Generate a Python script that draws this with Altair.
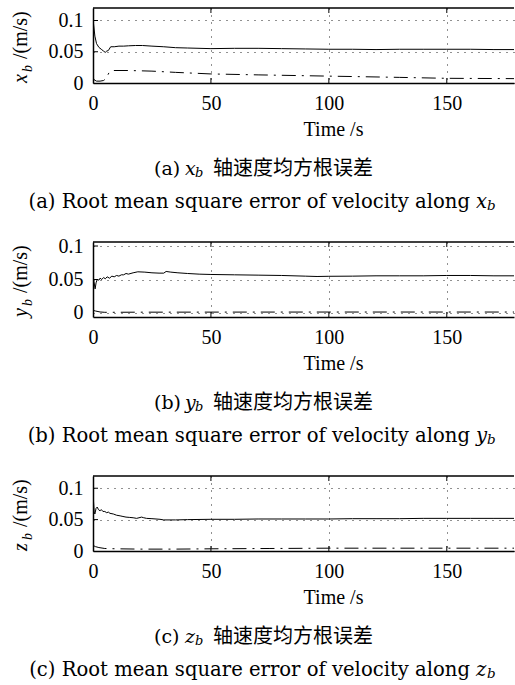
import altair as alt
import pandas as pd

# ---------------- data ----------------
# (a) x_b
xb_t_solid = [0, 0.3, 0.8, 1.5, 2.5, 3.5, 4.5, 5.2, 5.8, 6.5, 7.5, 9, 11, 13, 15, 18, 21, 25, 30, 35, 40,
              50, 60, 70, 80, 90, 100, 110, 120, 130, 140, 150, 160, 170, 178.5]
xb_solid = [0.102, 0.092, 0.075, 0.063, 0.057, 0.054, 0.051, 0.049, 0.051, 0.052, 0.058, 0.058, 0.059, 0.059,
            0.0595, 0.060, 0.060, 0.059, 0.058, 0.0565, 0.056, 0.055, 0.0555, 0.0555, 0.055, 0.0545, 0.054,
            0.054, 0.0535, 0.054, 0.054, 0.054, 0.054, 0.0535, 0.0535]
xb_t_dash = [0, 0.5, 1.5, 3, 4.5, 5.5, 7, 8, 15, 25, 35, 50, 70, 100, 130, 150, 178.5]
xb_dash = [0.009, 0.005, 0.003, 0.003, 0.004, 0.007, 0.018, 0.020, 0.020, 0.019, 0.017, 0.0145, 0.013,
           0.011, 0.009, 0.0075, 0.007]

# (b) y_b
yb_t_solid = [0, 0.4, 0.9, 1.3, 1.8, 2.5, 3, 3.7, 4.5, 5.2, 6, 7, 8, 9, 10, 11, 12, 13, 14, 15, 17, 19, 22,
              25, 28, 30, 31, 33, 36, 40, 45, 50, 60, 70, 80, 90, 95, 100, 110, 120, 130, 140, 150, 160,
              170, 178.5]
yb_solid = [0.052, 0.047, 0.036, 0.045, 0.050, 0.049, 0.052, 0.050, 0.053, 0.051, 0.054, 0.052, 0.055, 0.054,
            0.056, 0.055, 0.057, 0.057, 0.059, 0.058, 0.060, 0.0615, 0.061, 0.060, 0.0595, 0.0595, 0.062,
            0.061, 0.060, 0.059, 0.058, 0.0575, 0.057, 0.0565, 0.056, 0.055, 0.0545, 0.0548, 0.055, 0.0555,
            0.0555, 0.0555, 0.056, 0.056, 0.0555, 0.0555]
yb_t_dash = [0, 1, 3, 5, 20, 50, 100, 178.5]
yb_dash = [0.004, 0.003, 0.0015, 0.001, 0.0012, 0.0013, 0.0014, 0.0014]

# (c) z_b
zb_t_solid = [0, 0.2, 0.5, 0.8, 1.3, 1.8, 2.3, 3, 3.5, 4.2, 5, 5.8, 6.5, 7.2, 8.6, 10, 11.5, 12.7, 14, 15.6,
              17, 18.5, 20.6, 21.5, 22.7, 25, 28.4, 30, 35, 40, 50, 60, 70, 80, 90, 100, 110, 120, 130, 140,
              150, 160, 170, 178.5]
zb_solid = [0.098, 0.080, 0.062, 0.059, 0.068, 0.070, 0.066, 0.064, 0.066, 0.063, 0.063, 0.061, 0.062, 0.060,
            0.059, 0.057, 0.056, 0.055, 0.054, 0.0535, 0.053, 0.052, 0.054, 0.053, 0.052, 0.0515, 0.0505,
            0.0495, 0.0495, 0.050, 0.0505, 0.0505, 0.051, 0.051, 0.051, 0.051, 0.0515, 0.0515, 0.0515, 0.052,
            0.052, 0.052, 0.052, 0.052]
zb_t_dash = [0, 1, 2.5, 5, 10, 20, 35, 50, 75, 100, 130, 150, 178.5]
zb_dash = [0.009, 0.007, 0.0055, 0.004, 0.0035, 0.003, 0.003, 0.0035, 0.004, 0.0045, 0.0045, 0.0045, 0.0045]

x_ticks = [0, 50, 100, 150]
y_ticks = [0, 0.05, 0.1]
inner_x_ticks = [50, 100, 150]
inner_y_ticks = [0.05, 0.1]

# ---------------- styling ----------------
W, H = 421, 75
SERIF = "Liberation Serif"
CAP = "DejaVu Serif"
CJK = "Noto Sans CJK SC"


def txt(text, x, y, size, font=SERIF, align="left", angle=0, italic=False):
    kw = dict(text=text, font=font, fontSize=size, align=align, baseline="middle", color="black")
    if angle:
        kw["angle"] = angle
    if italic:
        kw["fontStyle"] = "italic"
    return alt.Chart(pd.DataFrame({"k": [0]})).mark_text(**kw).encode(x=alt.value(x), y=alt.value(y))


def panel(letter, var, ts, vs, td, vd, ydom, anchor=False):
    xs = alt.Scale(domain=[0, 178.5], nice=False, zero=False)
    ys = alt.Scale(domain=ydom, nice=False, zero=False)
    xaxis = alt.Axis(values=x_ticks, title="Time /s", grid=True, gridDash=[1, 6], gridColor="#222",
                     gridWidth=1, domainColor="black", domainWidth=1.5, ticks=False, tickSize=0,
                     labelFont=SERIF, labelFontSize=20, labelColor="black", labelPadding=10,
                     labelFlush=False, titleFont=SERIF, titleFontSize=20, titleFontWeight="normal",
                     titleColor="black", titleX=240, titleY=46, titleBaseline="middle", titleAlign="center")
    yaxis = alt.Axis(values=y_ticks, title=None, format="~g", grid=True, gridDash=[1, 6], gridColor="#222",
                     gridWidth=1, domainColor="black", domainWidth=1.5, ticks=False, tickSize=0,
                     labelFont=SERIF, labelFontSize=20, labelColor="black", labelPadding=10)
    X = lambda: alt.X("t:Q", scale=xs, axis=xaxis, title="Time /s")
    Y = lambda: alt.Y("v:Q", scale=ys, axis=yaxis, title=None)
    d1 = pd.DataFrame({"t": ts, "v": vs})
    d2 = pd.DataFrame({"t": td, "v": vd})
    solid = alt.Chart(d1).mark_line(color="black", strokeWidth=1, clip=True).encode(x=X(), y=Y())
    dashed = alt.Chart(d2).mark_line(color="black", strokeWidth=1, strokeDash=[14, 6, 2, 6], clip=True).encode(
        x=X(), y=Y())
    top = alt.Chart(pd.DataFrame({"k": [0]})).mark_rule(color="black", strokeWidth=1.5).encode(
        x=alt.value(0), x2=alt.value(W), y=alt.value(0))
    xt = pd.DataFrame({"t": inner_x_ticks})
    xtick_b = alt.Chart(xt).mark_rule(color="black", strokeWidth=1).encode(
        x=X(), y=alt.value(H), y2=alt.value(H - 5))
    xtick_t = alt.Chart(xt).mark_rule(color="black", strokeWidth=1).encode(
        x=X(), y=alt.value(0), y2=alt.value(5))
    ytk = alt.Chart(pd.DataFrame({"v": inner_y_ticks})).mark_rule(color="black", strokeWidth=1).encode(
        y=Y(), x=alt.value(0), x2=alt.value(5))
    # y-axis title: italic var, subscript b, then /(m/s)  (rotated)
    yt1 = txt(var, -72, 75, 20, angle=270, italic=True)
    yt2 = txt("b", -65, 64, 14, angle=270, italic=True)
    yt3 = txt("/(m/s)", -72, 51, 20, angle=270)
    # captions
    c1 = txt(f"({letter})", 61, H + 86, 19, font=CAP)
    c2 = txt(var, 92, H + 86, 19, font=CAP, italic=True)
    c3 = txt("b", 102, H + 90, 13, font=CAP, italic=True)
    c4 = txt("轴速度均方根误差", 120, H + 86, 20, font=CJK)
    e1 = txt(f"({letter}) Root mean square error of velocity along", 377, H + 119, 19.6, font=CAP, align="right")
    e2 = txt(var, 383, H + 119, 19.6, font=CAP, italic=True)
    e3 = txt("b", 394, H + 123, 13.5, font=CAP, italic=True)
    layers = [solid, dashed, top, xtick_b, xtick_t, ytk, yt1, yt2, yt3, c1, c2, c3, c4, e1, e2, e3]
    if anchor:
        layers.append(alt.Chart(pd.DataFrame({"k": [0]})).mark_rule(strokeOpacity=0, strokeWidth=0.1).encode(
            x=alt.value(-93), x2=alt.value(-92), y=alt.value(-8)))
    return alt.layer(*layers).properties(width=W, height=H)


p1 = panel("a", "x", xb_t_solid, xb_solid, xb_t_dash, xb_dash, [0, 0.12], anchor=True)
p2 = panel("b", "y", yb_t_solid, yb_solid, yb_t_dash, yb_dash, [-0.006, 0.106])
p3 = panel("c", "z", zb_t_solid, zb_solid, zb_t_dash, zb_dash, [0, 0.1195])

chart = alt.vconcat(p1, p2, p3, spacing=159, bounds="flush").properties(
    padding=0, background="white"
).configure_view(stroke=None).configure_axis(labelFont=SERIF, titleFont=SERIF)

chart.save("out.html", embed_options={"renderer": "svg", "actions": False})
